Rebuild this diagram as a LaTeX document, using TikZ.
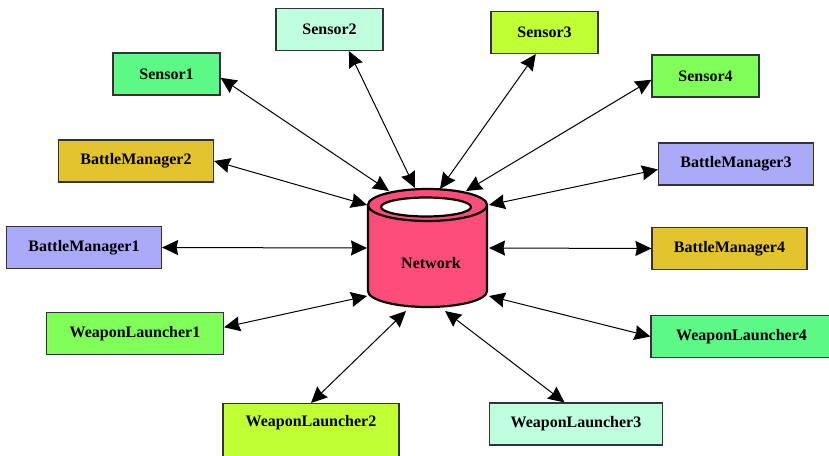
\documentclass[tikz,border=0pt]{standalone}
\usepackage{fontspec}
\setmainfont{Liberation Serif}
\usetikzlibrary{arrows.meta}
\definecolor{cgreen}{HTML}{5CF987}
\definecolor{cmint}{HTML}{BFFFDF}
\definecolor{clime}{HTML}{BFFF33}
\definecolor{cleaf}{HTML}{80FF5A}
\definecolor{cgold}{HTML}{E3C32E}
\definecolor{clav}{HTML}{AAAAF8}
\definecolor{cnet}{HTML}{FF4D79}
\begin{document}
\begin{tikzpicture}[x=1pt,y=-1pt,
    box/.style={draw=black!80,line width=1.2pt,minimum width=#1,minimum height=42pt,
      inner sep=0pt,font=\bfseries\fontsize{16}{18}\selectfont},
    link/.style={<->,>={Stealth[length=16pt,width=15pt,inset=1.5pt]},line width=1pt}]
  \useasboundingbox (0,0) rectangle (829,455);
  % Network
  \filldraw[fill=cnet,line width=2.2pt] (368,205) -- (368,291)
    arc[start angle=180,end angle=360,x radius=59.5pt,y radius=16pt] -- (487,205) -- cycle;
  \filldraw[fill=cnet,line width=2.2pt] (427.5,205) ellipse [x radius=59.5pt,y radius=16pt];
  \filldraw[fill=white,line width=2.2pt] (426,207) ellipse [x radius=45pt,y radius=9.5pt];
  \node[font=\bfseries\fontsize{16}{18}\selectfont] (net) at (431,263) {Network};
  \coordinate (ns1) at (389,191);
  \coordinate (ns2) at (415,188);
  \coordinate (ns3) at (440,189);
  \coordinate (ns4) at (466,191);
  \coordinate (nb2) at (367,205);
  \coordinate (nb1) at (367,248);
  \coordinate (nb3) at (489,205);
  \coordinate (nb4) at (489,248);
  \coordinate (nw1) at (367,296);
  \coordinate (nw2) at (406,311);
  \coordinate (nw3) at (445,311);
  \coordinate (nw4) at (489,296);
  % Sensors
  \node[box=107pt,fill=cgreen] (s1) at (166.5,74) {Sensor1};
  \node[box=107pt,fill=cmint] (s2) at (329.5,29.5) {Sensor2};
  \node[box=107pt,fill=clime] (s3) at (544.5,32.5) {Sensor3};
  \node[box=107pt,fill=cleaf] (s4) at (705.5,76) {Sensor4};
  % Battle managers
  \node[box=155pt,fill=clav] (b1) at (84,247.5) {BattleManager1};
  \node[box=155pt,fill=cgold] (b2) at (136,161) {BattleManager2};
  \node[box=155pt,fill=clav] (b3) at (736,164) {BattleManager3};
  \node[box=155pt,fill=cgold] (b4) at (729.5,248.5) {BattleManager4};
  % Weapon launchers
  \node[box=177pt,fill=cleaf] (w1) at (135,333.5) {WeaponLauncher1};
  \node[box=176pt,fill=clime,anchor=north,text height=23pt,text depth=36pt] (w2) at (311,403) {WeaponLauncher2};
  \node[box=173pt,fill=cmint] (w3) at (576,424) {WeaponLauncher3};
  \node[box=181pt,fill=cgreen] (w4) at (741.5,336.5) {WeaponLauncher4};
  % Links
  \foreach \a/\b in {s1.-4/ns1,s2.-48/ns2,s3.-112/ns3,s4.184/ns4,
                     b2.east/nb2,b1.east/nb1,b3.184/nb3,b4.west/nb4,
                     w1.4/nw1,w2.north/nw2,w3.118/nw3,w4.west/nw4}
    \draw[link] (\a) -- (\b);
\end{tikzpicture}
\end{document}
